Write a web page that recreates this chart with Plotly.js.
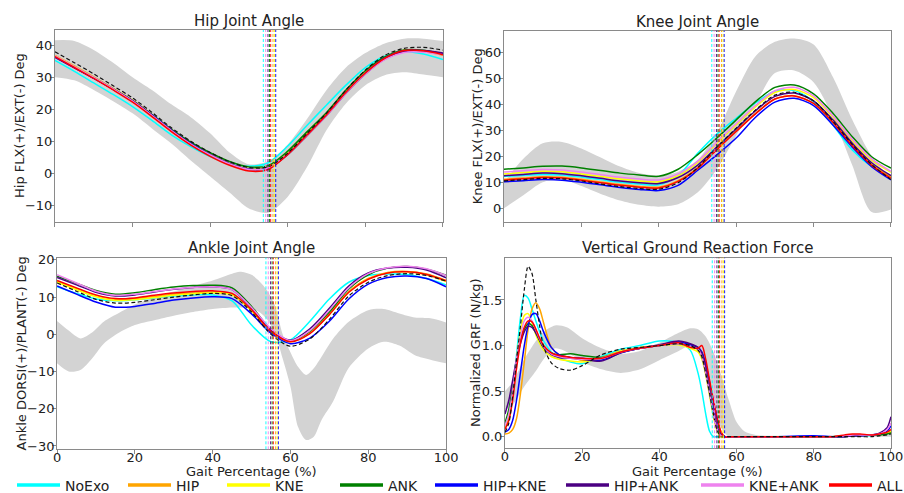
<!DOCTYPE html>
<html><head><meta charset="utf-8">
<script src="https://cdn.plot.ly/plotly-3.0.1.min.js"></script>
<style>html,body{margin:0;padding:0;background:#fff}#chart{width:904px;height:493px}</style>
</head><body><div id="chart"></div>
<script>
// ---------- series meta ----------
const seriesNames  = ['NoExo','HIP','KNE','ANK','HIP+KNE','HIP+ANK','KNE+ANK','ALL'];
const seriesColors = ['#00ffff','#ffa500','#ffff00','#008000','#0000ff','#4b0082','#ee82ee','#ff0000'];
// toe-off (% gait) per condition, same order as names
const toeOff = [53.7,56.2,56.6,55.3,56.9,54.9,54.3,55.6];

// ---------- joint angles (x every 5 %) ----------
const angleX = [0,5,10,15,20,25,30,35,40,45,50,55,60,65,70,75,80,85,90,95,100];

const hipLines = [
  [35.2,31.8,28.2,24.6,20.8,16.5,12.0,8.3,5.2,3.0,2.2,3.3,8.5,15.0,21.3,27.5,33.0,36.5,38.0,37.2,35.5], // NoExo
  [36.8,33.5,30.1,26.5,22.8,18.3,13.6,9.4,5.9,3.0,1.3,1.8,6.2,12.3,18.3,25.3,31.3,35.8,38.0,38.0,36.8], // HIP
  [36.6,33.3,29.9,26.3,22.6,18.1,13.4,9.3,5.9,3.1,1.5,2.1,6.5,12.5,18.6,25.6,31.6,36.1,38.4,38.2,37.0], // KNE
  [36.4,33.1,29.8,26.3,22.7,18.3,13.7,9.7,6.4,3.7,2.0,2.4,6.9,13.0,19.0,26.0,32.0,36.3,38.5,38.4,37.2], // ANK
  [36.2,32.9,29.6,26.2,22.6,18.2,13.5,9.3,5.8,3.0,1.3,1.7,6.0,12.0,18.2,25.2,31.3,35.9,38.2,38.2,37.2], // HIP+KNE
  [36.3,33.0,29.7,26.2,22.6,18.1,13.4,9.2,5.8,3.0,1.2,1.6,5.8,11.8,18.0,25.0,31.0,35.6,38.0,38.3,37.5], // HIP+ANK
  [36.6,33.3,29.9,26.3,22.5,18.0,13.3,9.1,5.7,2.9,1.2,1.7,6.0,11.9,18.0,25.0,31.0,35.5,37.7,37.8,37.0], // KNE+ANK
  [36.4,33.0,29.6,26.0,22.2,17.7,13.0,8.8,5.3,2.5,0.7,1.2,5.9,12.0,18.3,25.3,31.3,35.9,38.3,38.2,37.0]  // ALL
];
const hipRef    = [37.9,34.5,31.0,27.3,23.5,19.0,14.2,10.0,6.5,3.6,1.8,2.0,6.3,12.5,18.8,26.0,32.2,36.8,39.0,39.3,38.4];
const hipBandLo = [30.0,29.0,26.0,22.5,18.7,14.0,9.3,4.0,-1.0,-6.0,-11.0,-12.3,-7.3,2.0,13.5,21.8,27.5,30.6,31.5,30.8,30.0];
const hipBandHi = [41.5,41.3,38.5,34.5,30.0,26.0,21.5,17.5,12.5,6.5,2.8,3.8,9.0,17.0,26.0,33.0,37.5,40.5,42.0,42.0,41.3];

const kneeLines = [
  [12.2,12.7,13.0,12.8,12.0,11.0,10.0,9.3,9.0,12.5,21.0,28.5,34.6,40.5,45.0,45.3,41.0,32.0,22.4,16.0,12.0],
  [11.1,11.6,12.1,11.9,11.1,10.1,9.1,8.4,8.1,10.6,15.5,23.0,29.8,36.5,42.0,43.3,40.3,33.0,24.2,16.8,12.0],
  [13.2,13.7,14.2,14.0,13.2,12.2,11.2,10.5,10.2,12.5,17.5,25.0,32.0,39.0,44.5,45.7,42.5,35.0,26.0,18.5,13.8],
  [15.0,15.5,16.1,16.2,15.5,14.5,13.5,12.8,12.3,15.0,20.5,27.0,34.0,41.0,46.5,47.4,44.0,36.5,27.5,19.8,15.4],
  [10.2,10.6,11.0,10.8,10.0,9.0,8.0,7.2,6.8,8.8,14.5,20.5,27.0,35.0,40.8,42.3,39.5,32.0,23.5,16.0,10.9],
  [12.5,13.0,13.5,13.3,12.5,11.5,10.5,9.8,9.5,11.8,16.5,23.5,30.5,37.5,43.0,44.3,41.3,34.0,25.0,17.5,12.5],
  [13.9,14.4,14.9,14.7,13.9,12.9,11.9,11.2,10.9,13.2,18.0,25.5,32.5,39.5,45.2,46.5,43.2,35.5,26.5,19.0,14.2],
  [10.8,11.3,11.8,11.6,10.8,9.8,8.8,8.1,7.8,10.3,15.2,22.5,29.5,36.3,42.0,43.2,40.3,33.0,24.0,16.5,11.5]
];
const kneeRef    = [10.5,11.0,11.5,11.3,10.5,9.3,8.3,7.6,7.3,9.8,15.5,23.5,30.8,37.8,43.5,44.6,41.3,33.5,24.5,16.8,11.0];
const kneeBandLo = [0.0,5.0,10.0,11.0,8.5,5.5,3.0,1.3,0.6,1.5,6.0,15.0,28.0,40.0,52.0,53.0,48.5,35.0,16.5,-1.5,-0.5];
const kneeBandHi = [10.0,19.0,25.0,25.5,23.0,19.5,16.0,13.5,12.5,14.0,18.5,29.0,45.0,58.5,64.0,65.3,63.0,50.5,34.0,20.0,11.0];

const ankleLines = [
  [12.8,11.0,9.5,9.0,9.3,9.8,10.3,10.6,10.6,9.0,2.5,-2.0,-1.5,3.5,9.5,14.0,15.8,16.2,16.1,15.0,13.3],
  [14.3,12.3,10.4,9.4,9.6,10.2,10.8,11.1,11.4,10.8,6.5,0.8,-1.8,0.5,5.5,11.5,15.0,16.6,16.9,16.2,14.5],
  [14.0,12.0,10.1,9.1,9.3,9.9,10.5,10.9,11.2,10.6,6.3,0.5,-2.0,0.3,5.3,11.3,14.9,16.5,16.8,16.0,14.2],
  [15.6,13.7,11.8,10.8,11.2,12.0,12.7,13.1,13.2,12.5,7.5,1.2,-1.8,0.8,6.0,12.2,16.0,17.8,18.2,17.5,15.9],
  [13.0,10.8,8.7,7.3,7.5,8.3,9.2,9.8,10.1,9.6,5.5,0.3,-2.5,-1.0,3.5,9.5,13.5,15.3,15.7,15.0,12.8],
  [15.3,13.3,11.3,10.3,10.6,11.4,12.1,12.6,12.8,12.0,7.0,1.2,-1.6,1.5,7.0,13.0,16.5,17.8,18.0,17.3,15.2],
  [16.0,13.8,11.6,10.5,10.8,11.5,12.2,12.6,12.8,12.0,7.2,1.5,-1.7,1.0,6.5,12.5,16.3,17.9,18.3,17.6,15.8],
  [14.5,12.5,10.6,9.6,9.8,10.5,11.1,11.5,11.7,11.0,6.6,0.8,-2.0,0.2,5.3,11.3,14.8,16.5,16.8,16.1,14.4]
];
const ankleRef = [13.8,11.6,9.4,8.4,8.6,9.3,10.0,10.6,11.0,10.4,6.0,0.0,-3.2,-1.2,4.0,10.3,14.0,15.8,16.3,15.8,14.3];
const ankleBandX  = [0,3,6,9,12,16,20,25,30,35,40,45,47,50,52,54,56,58,60,62,64,66,68,71,75,80,84,88,92,96,100];
const ankleBandLo = [-7.8,-10.0,-9.6,-6.5,-2.5,0.5,2.5,3.8,5.0,6.0,6.8,7.2,7.2,6.8,6.0,4.0,0.5,-6.5,-14.0,-25.0,-28.4,-27.5,-23.0,-18.0,-9.0,-3.8,-2.0,-3.0,-5.6,-6.8,-7.8];
const ankleBandHi = [3.6,1.0,-1.1,0.5,3.4,5.8,8.0,10.0,11.5,13.0,14.5,16.3,16.8,16.0,14.3,11.8,7.8,0.0,-4.8,-8.8,-10.9,-9.1,-6.0,-1.1,3.4,6.5,6.8,5.6,4.5,4.3,3.2];

// ---------- vertical GRF ----------
const grfX = [0,1,2,3,4,5,6,7,8,9,10,12,14,17,20,25,30,35,40,45,48,50,51,52,53,54,55,56,57,58,60,70,80,85,88,90,92,95,97,99,100];
const grfLines = [
  [0.10,0.25,0.50,0.90,1.30,1.55,1.52,1.40,1.27,1.15,1.05,0.93,0.87,0.82,0.80,0.88,0.96,1.00,1.05,1.03,0.95,0.70,0.50,0.25,0.06,0.0,0.0,0.0,0.0,0.0,0.0,0.0,0.0,0.0,0.0,0.01,0.01,0.01,0.02,0.04,0.05],
  [0.03,0.04,0.08,0.20,0.47,0.82,1.18,1.40,1.47,1.40,1.25,0.98,0.90,0.87,0.84,0.87,0.94,0.97,1.00,1.02,0.99,0.97,0.90,0.75,0.55,0.35,0.18,0.04,0.0,0.0,0.0,0.0,0.0,0.0,0.01,0.02,0.02,0.02,0.03,0.04,0.05],
  [0.10,0.20,0.45,0.85,1.15,1.33,1.35,1.25,1.12,1.02,0.95,0.88,0.85,0.83,0.82,0.86,0.94,0.98,1.00,1.01,0.97,0.93,0.85,0.68,0.45,0.22,0.06,0.0,0.0,0.0,0.0,0.0,0.0,0.0,0.0,0.01,0.01,0.02,0.02,0.04,0.06],
  [0.15,0.30,0.55,0.85,1.05,1.18,1.24,1.22,1.14,1.05,0.98,0.92,0.90,0.91,0.89,0.87,0.93,0.97,1.00,1.02,0.99,0.96,0.88,0.70,0.48,0.25,0.08,0.01,0.0,0.0,0.0,0.0,0.0,0.0,0.01,0.01,0.01,0.02,0.02,0.03,0.04],
  [0.05,0.08,0.18,0.40,0.70,1.00,1.22,1.34,1.35,1.27,1.15,0.98,0.90,0.87,0.86,0.84,0.92,0.97,1.00,1.04,1.01,0.98,0.93,0.80,0.60,0.38,0.18,0.04,0.0,0.0,0.0,0.0,0.01,0.0,0.0,0.01,0.01,0.02,0.03,0.06,0.12],
  [0.25,0.40,0.62,0.85,1.02,1.15,1.21,1.20,1.14,1.06,0.98,0.90,0.87,0.86,0.85,0.83,0.92,0.97,1.01,1.05,1.02,0.98,0.92,0.75,0.52,0.30,0.10,0.02,0.0,0.0,0.0,0.0,0.0,0.0,0.0,0.01,0.01,0.02,0.04,0.10,0.22],
  [0.12,0.25,0.50,0.85,1.10,1.27,1.31,1.27,1.17,1.07,0.99,0.91,0.88,0.86,0.85,0.86,0.93,0.97,1.00,1.02,0.99,0.96,0.88,0.70,0.48,0.25,0.08,0.01,0.0,0.0,0.0,0.0,0.0,0.0,0.01,0.02,0.02,0.02,0.03,0.08,0.15],
  [0.08,0.18,0.40,0.75,1.02,1.20,1.27,1.26,1.18,1.08,1.00,0.92,0.89,0.87,0.86,0.86,0.93,0.97,1.00,1.03,0.98,0.97,1.00,0.85,0.62,0.40,0.20,0.05,0.0,0.0,0.0,0.0,0.0,0.0,0.02,0.03,0.03,0.02,0.03,0.05,0.08]
];
const grfRef = [0.05,0.15,0.45,0.84,1.21,1.61,1.87,1.79,1.50,1.21,0.99,0.81,0.75,0.73,0.78,0.90,0.96,0.98,1.00,1.02,1.00,0.95,0.88,0.70,0.48,0.25,0.07,0.0,0.0,0.0,0.0,0.0,0.0,0.0,0.0,0.0,0.0,0.0,0.01,0.02,0.03];
const grfBandX  = [0,2,5,8,10,13,16,20,25,30,35,40,45,48,50,52,54,56,58,60,62,65,70,80,90,95,100];
const grfBandLo = [0.30,0.35,0.55,0.72,0.85,0.97,0.93,0.82,0.74,0.70,0.74,0.84,0.94,1.00,0.95,0.75,0.40,0.10,0.0,0.0,0.0,0.0,0.0,0.0,0.0,0.0,0.0];
const grfBandHi = [0.50,0.60,0.85,1.05,1.15,1.22,1.20,1.08,0.97,0.91,0.94,1.03,1.14,1.19,1.18,1.10,0.93,0.68,0.40,0.16,0.06,0.02,0.01,0.01,0.02,0.03,0.05];

// ---------- build ----------
const FONT = 'DejaVu Sans, Arial, sans-serif';
const TXT = '#222';
const traces = [];
function panel(ax, x, lines, ref, bx, lo, hi) {
  const xa = 'x' + ax, ya = 'y' + ax;
  traces.push({x: bx, y: lo, xaxis: xa, yaxis: ya, mode: 'lines', line: {width: 0, shape: 'spline', smoothing: 0.8, color: 'rgba(0,0,0,0)'}, showlegend: false, hoverinfo: 'skip'});
  traces.push({x: bx, y: hi, xaxis: xa, yaxis: ya, mode: 'lines', fill: 'tonexty', fillcolor: '#d3d3d3', line: {width: 0, shape: 'spline', smoothing: 0.8, color: 'rgba(0,0,0,0)'}, showlegend: false, hoverinfo: 'skip'});
  lines.forEach((ys, i) => traces.push({x: x, y: ys, xaxis: xa, yaxis: ya, mode: 'lines', name: seriesNames[i],
    line: {color: seriesColors[i], width: 1.5, shape: 'spline', smoothing: 0.8}, showlegend: false}));
  traces.push({x: x, y: ref, xaxis: xa, yaxis: ya, mode: 'lines', name: 'Ref',
    line: {color: '#111', width: 1.2, dash: '4px,2.5px', shape: 'spline', smoothing: 0.8}, showlegend: false});
}
panel('', angleX, hipLines, hipRef, angleX, hipBandLo, hipBandHi);
panel('2', angleX, kneeLines, kneeRef, angleX, kneeBandLo, kneeBandHi);
panel('3', angleX, ankleLines, ankleRef, ankleBandX, ankleBandLo, ankleBandHi);
panel('4', grfX, grfLines, grfRef, grfBandX, grfBandLo, grfBandHi);

// legend-only traces (thick line samples), each in its own legend for exact placement
const legendLeftPx = [12, 123, 222, 335, 430, 561, 696, 824];
const layout = {
  width: 904, height: 493, margin: {l: 0, r: 0, t: 0, b: 0, autoexpand: false},
  paper_bgcolor: '#fff', plot_bgcolor: '#fff',
  font: {family: FONT, size: 13, color: TXT},
  showlegend: true, shapes: [], annotations: []
};
seriesNames.forEach((n, i) => {
  const key = i === 0 ? 'legend' : 'legend' + (i + 1);
  traces.push({x: [null], y: [null], xaxis: 'x', yaxis: 'y', mode: 'lines', name: n, legend: key,
    line: {color: seriesColors[i], width: 3.5}, hoverinfo: 'skip'});
  layout[key] = {x: legendLeftPx[i] / 904, y: 7.5 / 493, xanchor: 'left', yanchor: 'middle', orientation: 'h',
    font: {family: FONT, size: 14, color: TXT}, bgcolor: 'rgba(0,0,0,0)', borderwidth: 0, itemwidth: 43};
});

const axBase = {showline: true, mirror: true, linecolor: '#8a8a8a', linewidth: 1, ticks: 'outside', ticklen: 4,
  tickcolor: '#8a8a8a', showgrid: false, zeroline: false, automargin: false, ticklabelstandoff: -5,
  tickfont: {family: FONT, size: 13, color: TXT}};
const xTick = {range: [0, 100], tickvals: [0, 20, 40, 60, 80, 100]};
layout.xaxis  = Object.assign({}, axBase, xTick, {domain: [0.0608, 0.4900], anchor: 'y', showticklabels: false});
layout.xaxis2 = Object.assign({}, axBase, xTick, {domain: [0.5575, 0.9856], anchor: 'y2', showticklabels: false});
layout.xaxis3 = Object.assign({}, axBase, xTick, {domain: [0.0631, 0.4934], anchor: 'y3', ticklabelstandoff: -8});
layout.xaxis4 = Object.assign({}, axBase, xTick, {domain: [0.5586, 0.9856], anchor: 'y4', ticklabelstandoff: -8});
layout.yaxis  = Object.assign({}, axBase, {domain: [0.5497, 0.9391], anchor: 'x', range: [-15.2, 44.7], dtick: 10});
layout.yaxis2 = Object.assign({}, axBase, {domain: [0.5497, 0.9378], anchor: 'x2', range: [-5.3, 68.3], dtick: 10});
layout.yaxis3 = Object.assign({}, axBase, {domain: [0.0886, 0.4773], anchor: 'x3', range: [-30.9, 20.6], dtick: 10});
layout.yaxis4 = Object.assign({}, axBase, {domain: [0.0907, 0.4773], anchor: 'x4', range: [-0.127, 1.964],
  tickvals: [0, 0.5, 1.0, 1.5], ticktext: ['0.0', '0.5', '1.0', '1.5']});

// axis titles placed as annotations (pixel positions of text centre)
const yTitles = [['Hip FLX(+)/EXT(-) Deg', 'yaxis', 19], ['Knee FLX(+)/EXT(-) Deg', 'yaxis2', 477],
                 ['Ankle DORSI(+)/PLANT(-) Deg', 'yaxis3', 22], ['Normalized GRF (N/kg)', 'yaxis4', 476]];
yTitles.forEach(([t, ax, px]) => {
  const d = layout[ax].domain;
  layout.annotations.push({text: t, xref: 'paper', yref: 'paper', x: px / 904, y: (d[0] + d[1]) / 2,
    xanchor: 'center', yanchor: 'middle', textangle: -90, showarrow: false, font: {family: FONT, size: 13, color: TXT}});
});
['xaxis3', 'xaxis4'].forEach(ax => {
  const d = layout[ax].domain;
  layout.annotations.push({text: 'Gait Percentage (%)', xref: 'paper', yref: 'paper', x: (d[0] + d[1]) / 2,
    y: (493 - 471) / 493, xanchor: 'center', yanchor: 'middle', showarrow: false, font: {family: FONT, size: 13, color: TXT}});
});

// toe-off dashed verticals
['', '2', '3', '4'].forEach(ax => {
  toeOff.forEach((t, i) => layout.shapes.push({type: 'line', xref: 'x' + ax, yref: 'y' + ax + ' domain',
    x0: t, x1: t, y0: 0, y1: 1, opacity: 0.9, line: {color: seriesColors[i], width: 1, dash: '3px,2px'}}));
});

// subplot titles
const titles = [['Hip Joint Angle', 'xaxis', 0.9391, -2], ['Knee Joint Angle', 'xaxis2', 0.9378, -2],
                ['Ankle Joint Angle', 'xaxis3', 0.4773, -1], ['Vertical Ground Reaction Force', 'xaxis4', 0.4773, -1]];
titles.forEach(([t, ax, top, sh]) => {
  const d = layout[ax].domain;
  layout.annotations.push({text: t, xref: 'paper', yref: 'paper', x: (d[0] + d[1]) / 2, y: top,
    xanchor: 'center', yanchor: 'bottom', yshift: sh, showarrow: false, font: {family: FONT, size: 15, color: TXT}});
});

Plotly.newPlot('chart', traces, layout, {staticPlot: true, displayModeBar: false});
</script></body></html>
